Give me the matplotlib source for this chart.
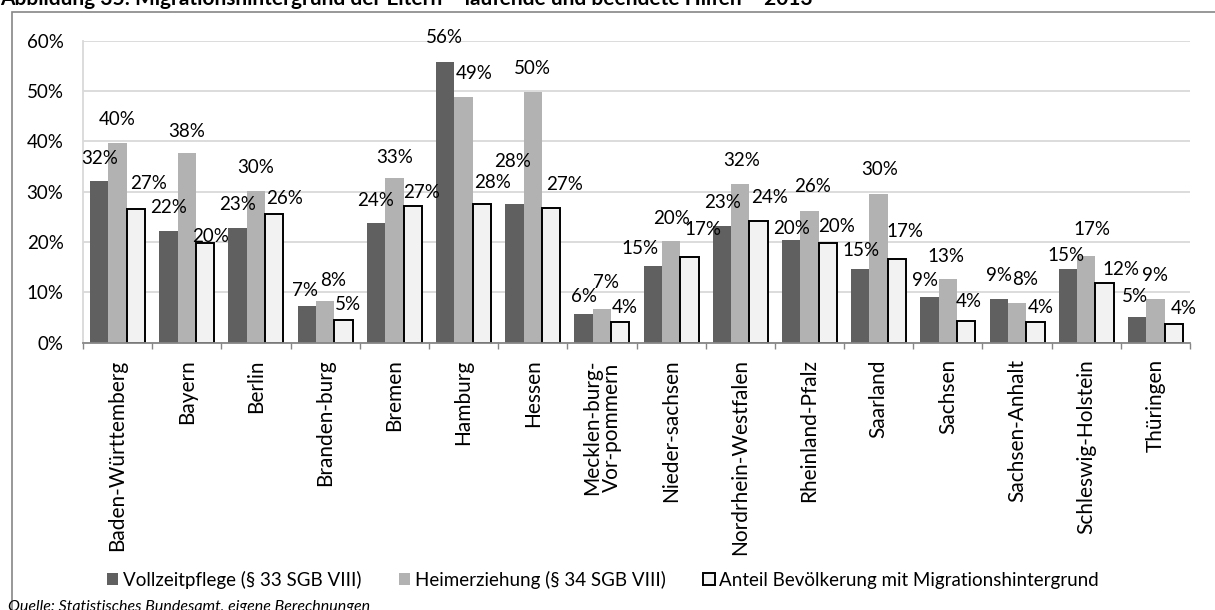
import numpy as np
import matplotlib
matplotlib.use("Agg")
import matplotlib.pyplot as plt
from matplotlib.patches import Rectangle
from matplotlib.ticker import FuncFormatter

plt.rcParams['font.family'] = ['Lato', 'DejaVu Sans']

laender = ["Baden-Württemberg", "Bayern", "Berlin", "Branden-burg", "Bremen",
           "Hamburg", "Hessen", "Mecklen-burg-\nVor-pommern", "Nieder-sachsen",
           "Nordrhein-Westfalen", "Rheinland-Pfalz", "Saarland", "Sachsen",
           "Sachsen-Anhalt", "Schleswig-Holstein", "Thüringen"]

# Anteile in Prozent
vollzeit = [32.1, 22.2, 22.7, 7.3, 23.7, 55.8, 27.6, 5.8, 15.2, 23.1, 20.4, 14.6, 9.1, 8.6, 14.7, 5.2]
heim = [39.6, 37.6, 30.2, 8.3, 32.8, 48.9, 49.9, 6.7, 20.2, 31.6, 26.2, 29.6, 12.6, 7.8, 17.2, 8.6]
bevoelkerung = [26.6, 19.8, 25.6, 4.6, 27.2, 27.6, 26.8, 4.2, 17.1, 24.2, 19.8, 16.6, 4.3, 4.1, 11.8, 3.8]

serien = ["Vollzeitpflege (§ 33 SGB VIII)", "Heimerziehung (§ 34 SGB VIII)",
          "Anteil Bevölkerung mit Migrationshintergrund"]

# Lage der Datenbeschriftungen relativ zur Balkenoberkante (dx, dy in Pixel)
off_voll = [(0, 23), (0, 23), (0, 24), (-2, 15), (0, 23), (-1, 24), (-2, 42), (0, 17),
            (-13, 18), (1, 24), (0, 12), (1, 19), (-5, 16), (0, 24), (-2, 13), (-2, 20)]
off_heim = [(0, 24), (0, 22), (0, 23), (8, 20), (0, 20), (11, 23), (0, 23), (4, 26),
            (0, 23), (1, 23), (3, 24), (1, 24), (-2, 23), (8, 24), (6, 27), (0, 24)]
off_bev = [(13, 25), (5, 7), (10, 15), (4, 15), (9, 13), (11, 21), (13, 23), (5, 14),
           (14, 27), (11, 23), (9, 17), (8, 28), (3, 20), (5, 15), (16, 14), (10, 15)]

W, H = 1215, 610
fig = plt.figure(figsize=(W / 100, H / 100), dpi=100)
ax = fig.add_axes([83 / W, 1 - 342.7 / H, 1107 / W, 302 / H])

x = np.arange(len(laender))
w = 0.265
b1 = ax.bar(x - w, vollzeit, w, color='#606060', label=serien[0])
b2 = ax.bar(x, heim, w, color='#b2b2b2', label=serien[1])
b3 = ax.bar(x + w, bevoelkerung, w, color='#f2f2f2', edgecolor='black',
            linewidth=1.4, label=serien[2])

for pos, werte, offs in [(x - w, vollzeit, off_voll), (x, heim, off_heim),
                         (x + w, bevoelkerung, off_bev)]:
    for xi, v, (dx, dy) in zip(pos, werte, offs):
        ax.annotate(f"{round(v)}%", (xi, v), xytext=(dx, dy), textcoords='offset pixels',
                    ha='center', va='center', fontsize=13.5, color='black')

ax.set_xlim(-0.5, len(laender) - 0.5)
ax.set_ylim(0, 60)
ax.set_yticks(range(0, 61, 10))
ax.yaxis.set_major_formatter(FuncFormatter(lambda v, p: f"{int(v)}%"))
ax.grid(axis='y', color='#d9d9d9', linewidth=1.3)
ax.set_axisbelow(True)

ax.set_xticks(x)
ax.set_xticklabels(laender, rotation=90, va='top', ha='center', fontsize=15,
                   linespacing=1.0)
ax.set_xticks(np.arange(-0.5, len(laender)), minor=True)
ax.tick_params(axis='x', which='major', length=0, pad=12)
ax.tick_params(axis='x', which='minor', length=4, width=1, color='#868686')
ax.tick_params(axis='y', length=0, pad=14, labelsize=13.5)

for s in ['top', 'right']:
    ax.spines[s].set_visible(False)
ax.spines['left'].set_color('#d9d9d9')
ax.spines['left'].set_linewidth(1.3)
ax.spines['bottom'].set_color('#868686')
ax.spines['bottom'].set_linewidth(1.3)

fig.legend(handles=[b1, b2, b3], loc='center', bbox_to_anchor=(603 / W, 1 - 580 / H),
           ncol=3, frameon=False, fontsize=13.5, handlelength=0.6, handleheight=0.6,
           handletextpad=0.25, columnspacing=2.0)

# Rahmen des Diagrammbereichs
fig.patches.append(Rectangle((12 / W, -0.1), 1.2, (1 - 12 / H) + 0.1, transform=fig.transFigure,
                             fill=False, edgecolor='#868686', linewidth=1.2))

fig.text(0, 1 - 5 / H, "Abbildung 35: Migrationshintergrund der Eltern – laufende und beendete Hilfen – 2013",
         fontsize=15, fontweight='bold', va='baseline', ha='left')
fig.text(8 / W, 1 - 607 / H, "Quelle: Statistisches Bundesamt, eigene Berechnungen",
         fontsize=11.5, style='italic', va='center', ha='left')

fig.savefig("out.png", dpi=100)
